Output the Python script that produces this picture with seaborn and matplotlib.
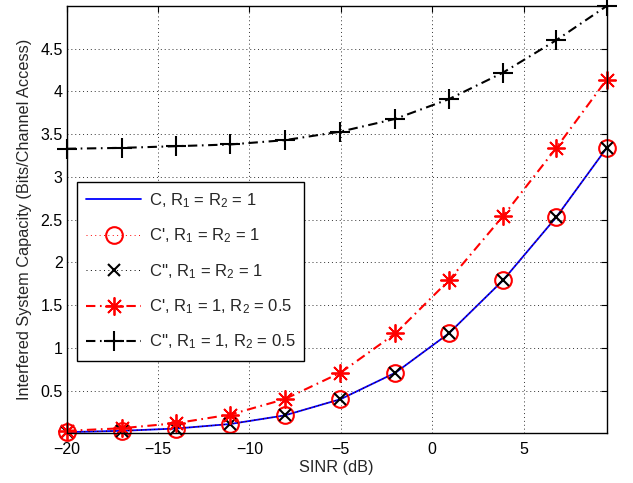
import matplotlib
matplotlib.use("Agg")
import matplotlib.pyplot as plt
import seaborn as sns
import pandas as pd

# SINR sample points (dB)
sinr_db = [-20.0, -17.0, -14.0, -11.05, -8.08, -5.02, -2.01, 0.91, 3.87, 6.79, 9.55]

# Capacity curves (Bits/Channel Access)
cap_c = [0.015, 0.03, 0.057, 0.11, 0.21, 0.40, 0.71, 1.17, 1.79, 2.53, 3.34]
cap_c1 = [0.015, 0.03, 0.057, 0.11, 0.21, 0.40, 0.71, 1.17, 1.79, 2.53, 3.34]
cap_c2 = [0.015, 0.03, 0.057, 0.11, 0.21, 0.40, 0.71, 1.17, 1.79, 2.53, 3.34]
cap_c1_half = [0.03, 0.06, 0.12, 0.22, 0.40, 0.71, 1.17, 1.79, 2.54, 3.34, 4.14]
cap_c2_half = [3.33, 3.34, 3.36, 3.38, 3.43, 3.53, 3.68, 3.91, 4.22, 4.60, 5.00]

labels = [
    r"C, R$_1$ = R$_2$ = 1",
    r"C', R$_1$ = R$_2$ = 1",
    r"C'', R$_1$ = R$_2$ = 1",
    r"C', R$_1$ = 1, R$_2$ = 0.5",
    r"C'', R$_1$ = 1, R$_2$ = 0.5",
]

x_ticks = [-20, -15, -10, -5, 0, 5]
y_ticks = [0.5, 1, 1.5, 2, 2.5, 3, 3.5, 4, 4.5]

sns.set_style("white")
plt.rcParams["font.family"] = ["Liberation Sans", "DejaVu Sans"]
plt.rcParams["mathtext.fontset"] = "custom"
plt.rcParams["mathtext.rm"] = "Liberation Sans"
plt.rcParams["mathtext.it"] = "Liberation Sans"

fig = plt.figure(figsize=(6.33, 4.83), dpi=100)
ax = fig.add_axes([0.1054, 0.1027, 0.8531, 0.8849])

df = pd.DataFrame({"sinr": sinr_db, "c": cap_c, "c1": cap_c1, "c2": cap_c2,
                   "c1h": cap_c1_half, "c2h": cap_c2_half})

dotted = (0, (1, 3.5))
dashdot = (0, (4.5, 2.2, 0.8, 2.2))

sns.lineplot(data=df, x="sinr", y="c", ax=ax, color="#0000ff", lw=1.3,
             linestyle="-", label=labels[0], zorder=3)
sns.lineplot(data=df, x="sinr", y="c1", ax=ax, color="#ff0000", lw=0.7,
             linestyle=dotted, marker="o", markersize=12, markerfacecolor="none",
             markeredgecolor="#ff0000", markeredgewidth=1.5, label=labels[1],
             clip_on=False, zorder=4)
sns.lineplot(data=df, x="sinr", y="c2", ax=ax, color="black", lw=0.7,
             linestyle=dotted, marker="x", markersize=9, markeredgecolor="black",
             markeredgewidth=1.5, label=labels[2], clip_on=False, zorder=4)
sns.lineplot(data=df, x="sinr", y="c1h", ax=ax, color="#ff0000", lw=1.5,
             linestyle=dashdot, marker=(8, 2, 0), markersize=13, markeredgecolor="#ff0000",
             markeredgewidth=1.3, label=labels[3], clip_on=False, zorder=4)
sns.lineplot(data=df, x="sinr", y="c2h", ax=ax, color="black", lw=1.5,
             linestyle=dashdot, marker="+", markersize=15, markeredgecolor="black",
             markeredgewidth=1.5, label=labels[4], clip_on=False, zorder=4)

ax.set_xlim(-20, 9.55)
ax.set_ylim(0, 5)
ax.set_xticks(x_ticks)
ax.set_xticklabels(["\u221220", "\u221215", "\u221210", "\u22125", "0", "5"])
ax.set_yticks(y_ticks)
ax.set_yticklabels(["0.5", "1", "1.5", "2", "2.5", "3", "3.5", "4", "4.5"])
ax.tick_params(direction="in", length=4, width=0.8, top=True, right=True,
               labelsize=11.5, colors="black")
ax.tick_params(axis="y", pad=3)
ax.tick_params(axis="x", pad=6)
ax.grid(True, linestyle=(0, (1, 3)), color="#333333", linewidth=0.7)
for s in ax.spines.values():
    s.set_visible(True)
    s.set_color("black")
    s.set_linewidth(1.0)
    s.set_zorder(5)

ax.set_xlabel("SINR (dB)", fontsize=11.7, labelpad=2)
ax.set_ylabel("Interfered System Capacity (Bits/Channel Access)", fontsize=11.7, labelpad=6)

leg = ax.legend(loc="upper left", bbox_to_anchor=(0.019, 0.588), fontsize=12,
                frameon=True, fancybox=False, edgecolor="black", framealpha=1,
                borderpad=0.55, labelspacing=1.0, handlelength=3.3, handletextpad=0.45,
                borderaxespad=0)
leg.get_frame().set_linewidth(1.0)
leg.set_zorder(6)

fig.savefig("out.png", dpi=100)
